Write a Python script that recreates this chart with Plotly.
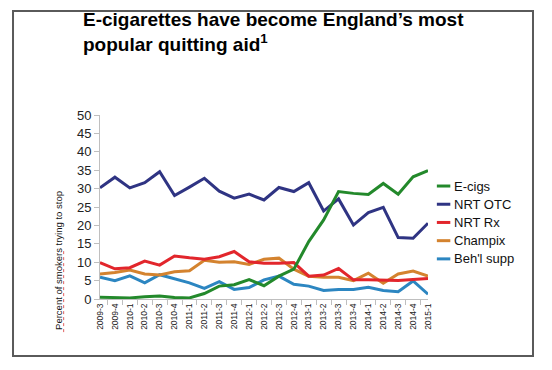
import plotly.graph_objects as go

quarters = ["2009-3", "2009-4", "2010-1", "2010-2", "2010-3", "2010-4",
            "2011-1", "2011-2", "2011-3", "2011-4", "2012-1", "2012-2",
            "2012-3", "2012-4", "2013-1", "2013-2", "2013-3", "2013-4",
            "2014-1", "2014-2", "2014-3", "2014-4", "2015-1"]

ecigs = [0.5, 0.3, 0.3, 0.6, 0.8, 0.4, 0.3, 1.5, 3.5, 3.9, 5.3, 3.6,
         6.2, 8.1, 15.6, 21.5, 29.2, 28.7, 28.4, 31.4, 28.5, 33.2, 34.9]
nrt_otc = [30.2, 33.1, 30.2, 31.6, 34.6, 28.1, 30.4, 32.8, 29.3, 27.4, 28.5, 26.9,
           30.3, 29.2, 31.6, 23.9, 27.2, 20.1, 23.5, 24.9, 16.7, 16.5, 20.6]
nrt_rx = [9.9, 8.2, 8.5, 10.3, 9.2, 11.7, 11.2, 10.8, 11.5, 12.9, 10.1, 9.7,
          9.7, 9.9, 6.2, 6.5, 8.3, 5.2, 5.2, 5.0, 5.0, 5.3, 5.6]
champix = [6.8, 7.2, 7.9, 6.8, 6.5, 7.4, 7.7, 10.5, 10.0, 10.1, 9.4, 10.8,
           11.1, 8.1, 6.2, 5.9, 5.9, 5.0, 7.0, 4.3, 6.8, 7.6, 6.2]
behl_supp = [5.9, 5.0, 6.3, 4.4, 6.6, 5.6, 4.4, 2.9, 4.7, 2.6, 3.1, 5.2,
             6.2, 4.0, 3.5, 2.3, 2.6, 2.6, 3.2, 2.3, 2.0, 4.9, 1.3]

series_names = ["E-cigs", "NRT OTC", "NRT Rx", "Champix", "Beh'l supp"]
series_values = [ecigs, nrt_otc, nrt_rx, champix, behl_supp]
series_colors = ["#23892B", "#2F3483", "#E2262C", "#D4832F", "#2C86C1"]

FONT = "Arial, 'Liberation Sans', sans-serif"

fig = go.Figure()
# draw from bottom to top so E-cigs ends up on top
for name, vals, col in reversed(list(zip(series_names, series_values, series_colors))):
    fig.add_trace(go.Scatter(x=quarters, y=vals, mode="lines", name=name,
                             line=dict(color=col, width=3), showlegend=False,
                             hoverinfo="skip"))

# custom legend (short line samples like the original)
shapes = []
annotations = []
for i, (name, col) in enumerate(zip(series_names, series_colors)):
    yy = 0.614 - i * 0.099
    shapes.append(dict(type="line", xref="paper", yref="paper",
                       x0=1.027, x1=1.068, y0=yy, y1=yy,
                       line=dict(color=col, width=3)))
    annotations.append(dict(text=name, xref="paper", yref="paper",
                            x=1.072, y=yy, xanchor="left", yanchor="middle",
                            showarrow=False,
                            font=dict(family=FONT, size=13, color="#111111")))

# outer frame
shapes.append(dict(type="rect", xref="paper", yref="paper",
                   x0=-0.2652, x1=1.3201, y0=-0.3098, y1=1.5652,
                   line=dict(color="#5a5a5a", width=2), fillcolor="rgba(0,0,0,0)"))

# dotted red underline next to the axis title (as in the original slide)
shapes.append(dict(type="line", xref="paper", yref="paper",
                   x0=-0.1108, x1=-0.1108, y0=-0.18, y1=0.27,
                   line=dict(color="#E06060", width=1, dash="dot")))

# title
annotations.append(dict(text="<b>E-cigarettes have become England\u2019s most<br>popular quitting aid<sup>1</sup></b>",
                        xref="paper", yref="paper", x=-0.0579, y=1.587,
                        xanchor="left", yanchor="top", align="left", showarrow=False,
                        font=dict(family=FONT, size=19, color="#000000")))

# y axis title
annotations.append(dict(text="Percent of smokers trying to stop", xref="paper", yref="paper",
                        x=-0.125, y=0.207, xanchor="center", yanchor="middle",
                        textangle=-90, showarrow=False,
                        font=dict(family=FONT, size=9.5, color="#111111")))

fig.update_layout(
    width=552, height=370, autosize=False,
    margin=dict(l=100, r=124, t=115, b=71),
    paper_bgcolor="white", plot_bgcolor="white",
    font=dict(family=FONT, color="#222222"),
    shapes=shapes,
    annotations=annotations,
)

fig.update_xaxes(type="category", tickangle=-90, ticks="outside", tickson="boundaries",
                 ticklen=5, tickcolor="#BFBFBF", showline=True, linecolor="#BFBFBF",
                 linewidth=1, showgrid=False, zeroline=False,
                 tickfont=dict(family=FONT, size=8.5, color="#222222"))
fig.update_yaxes(range=[0, 50], dtick=5, tick0=0, ticks="outside", ticklen=5,
                 tickcolor="#BFBFBF", showline=True, linecolor="#BFBFBF", linewidth=1,
                 showgrid=False, zeroline=False,
                 tickfont=dict(family=FONT, size=13, color="#222222"))

fig.write_html("out.html", config={"displayModeBar": False},
               post_script="document.body.style.margin='0';document.body.style.overflow='hidden';")
